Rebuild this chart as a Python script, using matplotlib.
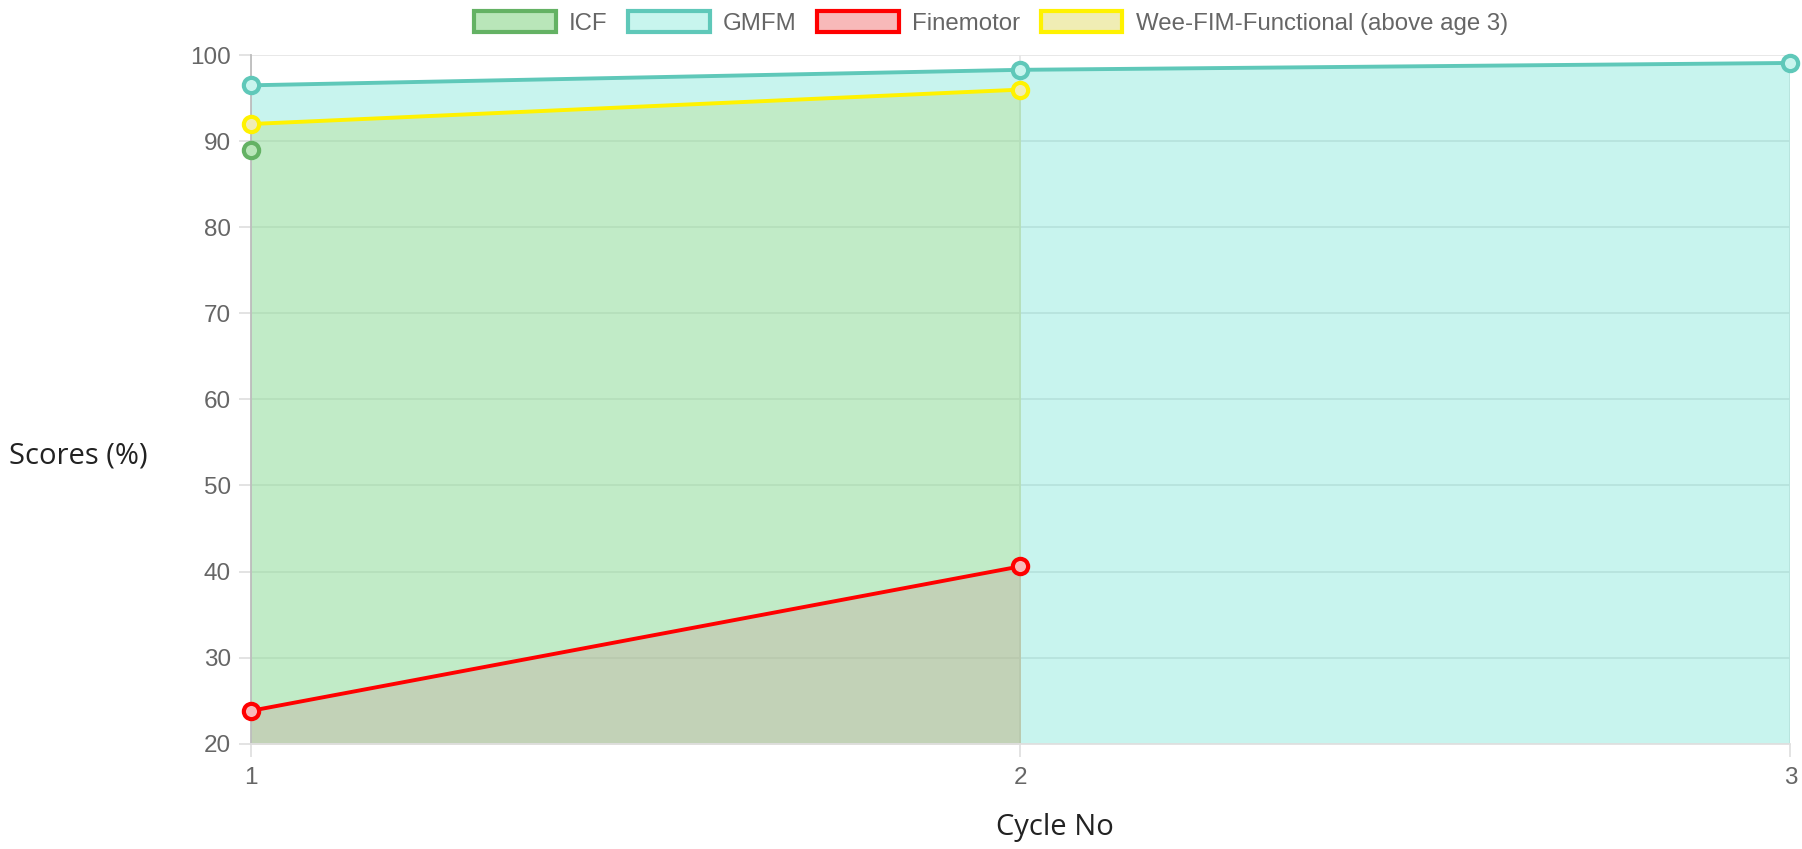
import matplotlib
matplotlib.use("Agg")
import matplotlib.pyplot as plt
from matplotlib.patches import Patch

cycles = [1, 2, 3]
icf = [89.0]
gmfm = [96.5, 98.3, 99.1]
finemotor = [23.8, 40.6]
weefim = [92.0, 96.0]
labels = ["ICF", "GMFM", "Finemotor", "Wee-FIM-Functional (above age 3)"]

fig = plt.figure(figsize=(18.02, 8.49), dpi=100)
ax = fig.add_axes([250.5/1802, 1-743.6/849, (1790.5-250.5)/1802, (743.6-55.2)/849])

tick_font = "Liberation Sans"
lbl_font = "Open Sans"

series = [
    (gmfm, (95/255, 200/255, 185/255), (75/255, 220/255, 200/255, 0.3), (200/255, 245/255, 238/255)),
    (weefim, (1.0, 0.95, 0.0), (178/255, 215/255, 112/255, 0.3), (240/255, 237/255, 180/255)),
    (finemotor, (1.0, 0.0, 0.0), (197/255, 153/255, 148/255, 0.3), (248/255, 185/255, 185/255)),
    (icf, (100/255, 178/255, 100/255), (130/255, 210/255, 130/255, 0.3), (185/255, 230/255, 185/255)),
]

for data, lc, fc, mf in series:
    xs = cycles[:len(data)]
    if len(data) > 1:
        ax.fill_between(xs, data, 0, color=fc, linewidth=0, zorder=1)
    ax.plot(xs, data, color=lc, lw=2.8, marker="o", ms=11, mew=3,
            mfc=mf, mec=lc, zorder=3, clip_on=False)

ax.set_xlim(1, 3)
ax.set_ylim(20, 100)
ax.set_xticks(cycles)
ax.set_yticks(range(20, 101, 10))
ax.grid(True, color="#e6e6e6", lw=1.3, zorder=0)
ax.set_axisbelow(True)
for s in ["top", "right"]:
    ax.spines[s].set_visible(False)
ax.spines["left"].set_color("#bdbdbd")
ax.spines["bottom"].set_color("#e0e0e0")
ax.spines["left"].set_linewidth(1.3)
ax.spines["bottom"].set_linewidth(1.3)
ax.tick_params(axis="both", color="#e0e0e0", length=9, width=1.3,
               labelcolor="#666666", labelsize=17.5)
ax.tick_params(axis="y", pad=5)
ax.tick_params(axis="x", pad=8)
for t in ax.get_xticklabels() + ax.get_yticklabels():
    t.set_fontfamily(tick_font)

fig.text(9/1802, 1-456/849, "Scores (%)", ha="left", va="center",
         fontsize=21, color="#222222", family=lbl_font)
fig.text(1055/1802, 1-828/849, "Cycle No", ha="center", va="center",
         fontsize=21, color="#222222", family=lbl_font)

handles = [
    Patch(facecolor=(185/255, 230/255, 185/255), edgecolor=(100/255, 178/255, 100/255), lw=3),
    Patch(facecolor=(200/255, 245/255, 238/255), edgecolor=(95/255, 200/255, 185/255), lw=3),
    Patch(facecolor=(248/255, 185/255, 185/255), edgecolor=(1.0, 0.0, 0.0), lw=3),
    Patch(facecolor=(240/255, 237/255, 180/255), edgecolor=(1.0, 0.95, 0.0), lw=3),
]
leg = fig.legend(handles, labels, loc="center", bbox_to_anchor=(991/1802, 1-23/849),
                 ncol=4, frameon=False, handlelength=3.4, handleheight=0.95,
                 handletextpad=0.55, columnspacing=0.85, borderaxespad=0,
                 prop={"family": tick_font, "size": 17.3})
for t in leg.get_texts():
    t.set_color("#666666")

fig.savefig("out.png", dpi=100)
